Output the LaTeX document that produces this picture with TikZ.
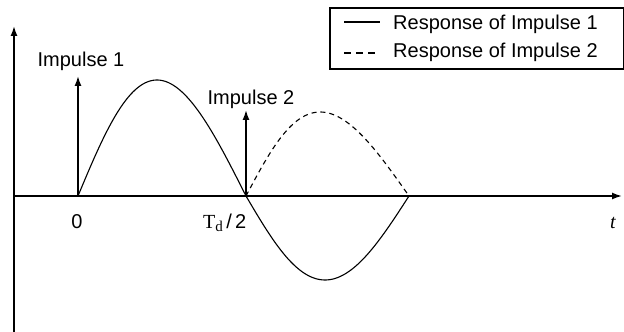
\documentclass[tikz,border=0pt]{standalone}
\usepackage{fontspec}
\setmainfont{Liberation Sans}
\newfontfamily\serifx{Liberation Serif}
\usetikzlibrary{arrows.meta}
\begin{document}
\begin{tikzpicture}[x=1pt,y=1pt,
  axis/.style={line width=1.6pt,-{Latex[length=10pt,width=7pt]}},
  imp/.style={line width=1.6pt,-{Latex[length=10pt,width=7pt]}},
  resp/.style={line width=1.1pt},
  lbl/.style={font=\fontsize{20}{24}\selectfont,inner sep=0pt,anchor=base},
  legendbox/.style={draw,line width=1.6pt,inner sep=0pt}]
\useasboundingbox (0,0) rectangle (624,332);
% axes
\coordinate (ybot) at (14,0);
\coordinate (ytop) at (14,306);
\coordinate (xl) at (14,136);
\coordinate (xr) at (622,136);
\draw[axis] (ybot) -- (ytop);
\draw[axis] (xl) -- (xr);
% impulses
\coordinate (i1b) at (78,136);
\coordinate (i1t) at (78,256);
\coordinate (i2b) at (246,136);
\coordinate (i2t) at (246,222);
\draw[imp] (i1b) -- (i1t);
\draw[imp] (i2b) -- (i2t);
% response 1
\draw[resp,domain=0:1,samples=80,variable=\u]
  plot ({78+168*(\u-0.03*sin(180*\u))},{136+116*sin(180*\u)})
  -- plot ({246+163*(\u-0.015*sin(180*\u))},{136-84*sin(180*\u)});
% response 2
\draw[resp,dashed,dash pattern=on 5pt off 4pt,domain=0:1,samples=80,variable=\u]
  plot ({246+163*(\u-0.045*sin(180*\u))},{136+84*sin(180*\u)});
% labels
\node[lbl] (l1) at (81,265) {Impulse 1};
\node[lbl] (l2) at (251,227) {Impulse 2};
\node[lbl] (z) at (77,103) {0};
\node[lbl,anchor=base west] (td) at (203,103) {{\serifx T\raisebox{-3pt}{\fontsize{15}{16}\selectfont d}}\,/\,2};
\node[lbl,anchor=base] (tt) at (613,103) {\serifx\itshape t};
% legend
\node[legendbox,minimum width=294pt,minimum height=61pt,anchor=north west] (leg) at (329,325) {};
\coordinate (s1a) at (344,310);
\coordinate (s1b) at (380,310);
\coordinate (s2a) at (344,279);
\coordinate (s2b) at (380,279);
\draw[line width=1.1pt] (s1a) -- (s1b);
\draw[line width=1.1pt,dash pattern=on 7pt off 5pt] (s2a) -- (s2b);
\node[lbl,anchor=base west] (t1) at (393,302) {Response of Impulse 1};
\node[lbl,anchor=base west] (t2) at (393,274) {Response of Impulse 2};
\end{tikzpicture}
\end{document}
